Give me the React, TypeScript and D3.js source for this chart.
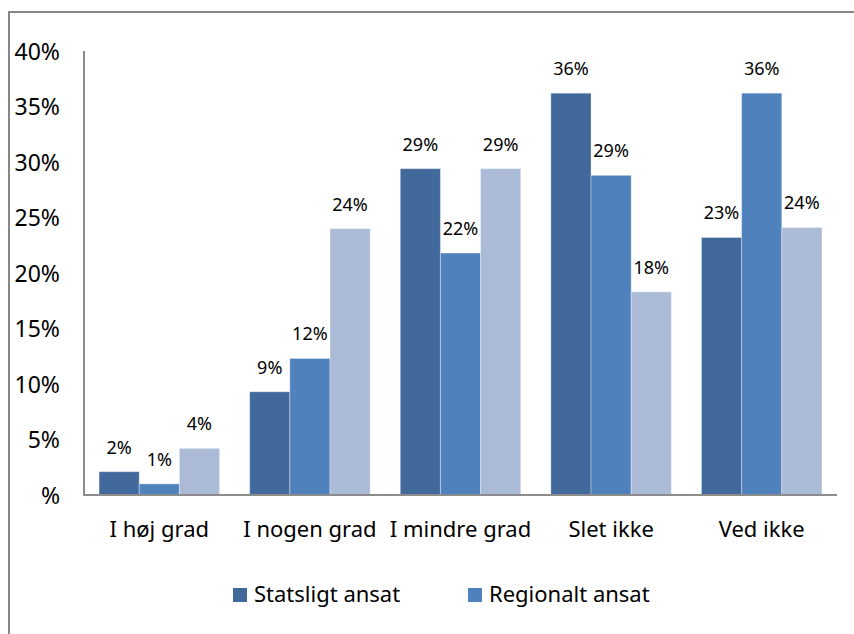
import React from 'react';
import { scaleBand, scaleLinear, format } from 'd3';

// categories + series (percent)
const categories = ['I høj grad', 'I nogen grad', 'I mindre grad', 'Slet ikke', 'Ved ikke'];
const seriesNames = ['Statsligt ansat', 'Regionalt ansat', 'Kommunalt ansat'];
const statsligt = [2.1, 9.3, 29.4, 36.2, 23.2];
const regionalt = [1.0, 12.3, 21.8, 28.8, 36.2];
const kommunalt = [4.2, 24.0, 29.4, 18.3, 24.1];
const yTicks = [0, 5, 10, 15, 20, 25, 30, 35, 40];
const yTickLabels = ['%', '5%', '10%', '15%', '20%', '25%', '30%', '35%', '40%'];

const colors = ['#41699c', '#4f81bd', '#aabad7'];
const font = '"Noto Sans", "Open Sans", sans-serif';

export default function App() {
  const width = 854;
  const height = 634;
  const series = [statsligt, regionalt, kommunalt];

  const x0 = scaleBand<string>()
    .domain(categories)
    .range([84, 837])
    .paddingInner(0.2)
    .paddingOuter(0.1);
  const x1 = scaleBand<number>()
    .domain(series.map((_, i) => i))
    .range([0, x0.bandwidth()]);
  const y = scaleLinear().domain([0, 40]).range([495, 51]);
  const pct = (v: number) => format('.0f')(v) + '%';

  // legend: only the first row fits inside the picture
  const legendX = [233, 468];
  const visibleLegend = seriesNames.slice(0, 2);

  return (
    <svg
      width={width}
      height={height}
      style={{ position: 'absolute', left: 0, top: 0, background: '#fff' }}
    >
      {/* chart border */}
      <rect x={9} y={12} width={width + 20} height={height + 20} fill="none" stroke="#878787" strokeWidth={2} />

      {/* y axis labels */}
      {yTicks.map((t, i) => (
        <text
          key={t}
          x={60}
          y={y(t) + 8.5}
          textAnchor="end"
          fontFamily={font}
          fontSize={23}
          fill="#000"
        >
          {yTickLabels[i]}
        </text>
      ))}

      {/* bars */}
      {categories.map((c, ci) => (
        <g key={c} transform={`translate(${x0(c)},0)`}>
          {series.map((s, si) => (
            <rect
              key={si}
              x={x1(si)}
              y={y(s[ci])}
              width={x1.bandwidth()}
              height={y(0) - y(s[ci])}
              fill={colors[si]}
              stroke="#ffffff"
              strokeOpacity={0.35}
              strokeWidth={1}
            />
          ))}
          {series.map((s, si) => (
            <text
              key={'l' + si}
              x={(x1(si) ?? 0) + x1.bandwidth() / 2}
              y={y(s[ci]) - 18}
              textAnchor="middle"
              fontFamily={font}
              fontSize={18}
              fill="#000"
            >
              {pct(s[ci])}
            </text>
          ))}
          <text
            x={x0.bandwidth() / 2}
            y={537}
            textAnchor="middle"
            fontFamily={font}
            fontSize={22}
            fill="#000"
          >
            {c}
          </text>
        </g>
      ))}

      {/* axes */}
      <line x1={84} x2={84} y1={51} y2={496} stroke="#8c8c8c" strokeWidth={2} />
      <line x1={83} x2={837} y1={495} y2={495} stroke="#8c8c8c" strokeWidth={2} />

      {/* legend */}
      {visibleLegend.map((name, i) => {
        const lx = legendX[i];
        const ly = 588;
        return (
          <g key={name}>
            <rect x={lx} y={ly} width={14} height={14} fill={colors[i]} />
            <text x={lx + 21} y={ly + 14} fontFamily={font} fontSize={22} fill="#000">
              {name}
            </text>
          </g>
        );
      })}
    </svg>
  );
}
